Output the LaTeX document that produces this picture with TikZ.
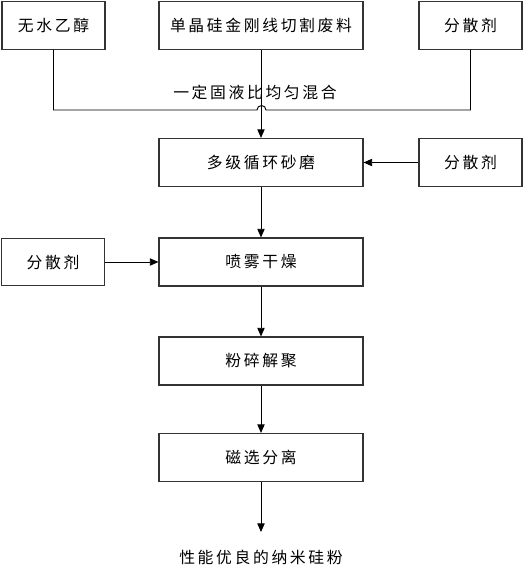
\documentclass[tikz,border=0pt]{standalone}
\usepackage{fontspec}
\setmainfont{Noto Sans CJK SC}
\usetikzlibrary{arrows.meta, positioning, calc}

\begin{document}
\begin{tikzpicture}[
      x=0.03cm, y=-0.03cm,
      font=\fontsize{13.5}{16}\selectfont,
      >={Triangle[length=2.6mm,width=2.2mm]},
      step box/.style={
        draw=black!80,
        line width=0.9pt,
        minimum width=6.12cm,
        minimum height=1.44cm,
        inner sep=0pt,
        align=center
      },
      agent/.style={
        draw=black!80,
        line width=0.9pt,
        minimum width=3.09cm,
        minimum height=1.42cm,
        inner sep=0pt,
        align=center
      },
      flow/.style={->, draw=black, line width=0.8pt},
      feed/.style={draw=black, line width=0.8pt}
    ]

    \useasboundingbox (0,0) rectangle (531,579);

    % Raw materials
    \node[agent] (ethanol) at (53.5,25.5) {无\,水\,乙\,醇};
    \node[step box] (waste) at (261,25.5) {单\,晶\,硅\,金\,刚\,线\,切\,割\,废\,料};
    \node[agent] (dispA) at (470.5,25.5) {分\,散\,剂};

    % Process steps
    \node[step box] (mill) at (261,162.5) {多\,级\,循\,环\,砂\,磨};
    \node[agent] (dispB) at (470.5,162.5) {分\,散\,剂};
    \node[step box] (dry) at (261,262) {喷\,雾\,干\,燥};
    \node[agent] (dispC) at (53,262) {分\,散\,剂};
    \node[step box] (crush) at (261,361) {粉\,碎\,解\,聚};
    \node[step box] (magsep) at (261,457.5) {磁\,选\,分\,离};
    \node (product) at (261,557) {性\,能\,优\,良\,的\,纳\,米\,硅\,粉};

    % Mixing line with hop over the centre line
    \coordinate (hopL) at (257,110);
    \coordinate (hopR) at (266,110);
    \draw[feed] (ethanol.south) |- (hopL) arc[start angle=180, end angle=360, radius=4.5] -| (dispA.south);
    \node at (255,92) {一\,定\,固\,液\,比\,均\,匀\,混\,合};

    % Main flow
    \draw[flow] (waste) -- (mill);
    \draw[flow] (dispB) -- (mill);
    \draw[flow] (mill) -- (dry);
    \draw[flow] (dispC) -- (dry);
    \draw[flow] (dry) -- (crush);
    \draw[flow] (crush) -- (magsep);
    \draw[flow] (magsep.south) -- ++(0,50) coordinate (tip);

  \end{tikzpicture}
\end{document}
